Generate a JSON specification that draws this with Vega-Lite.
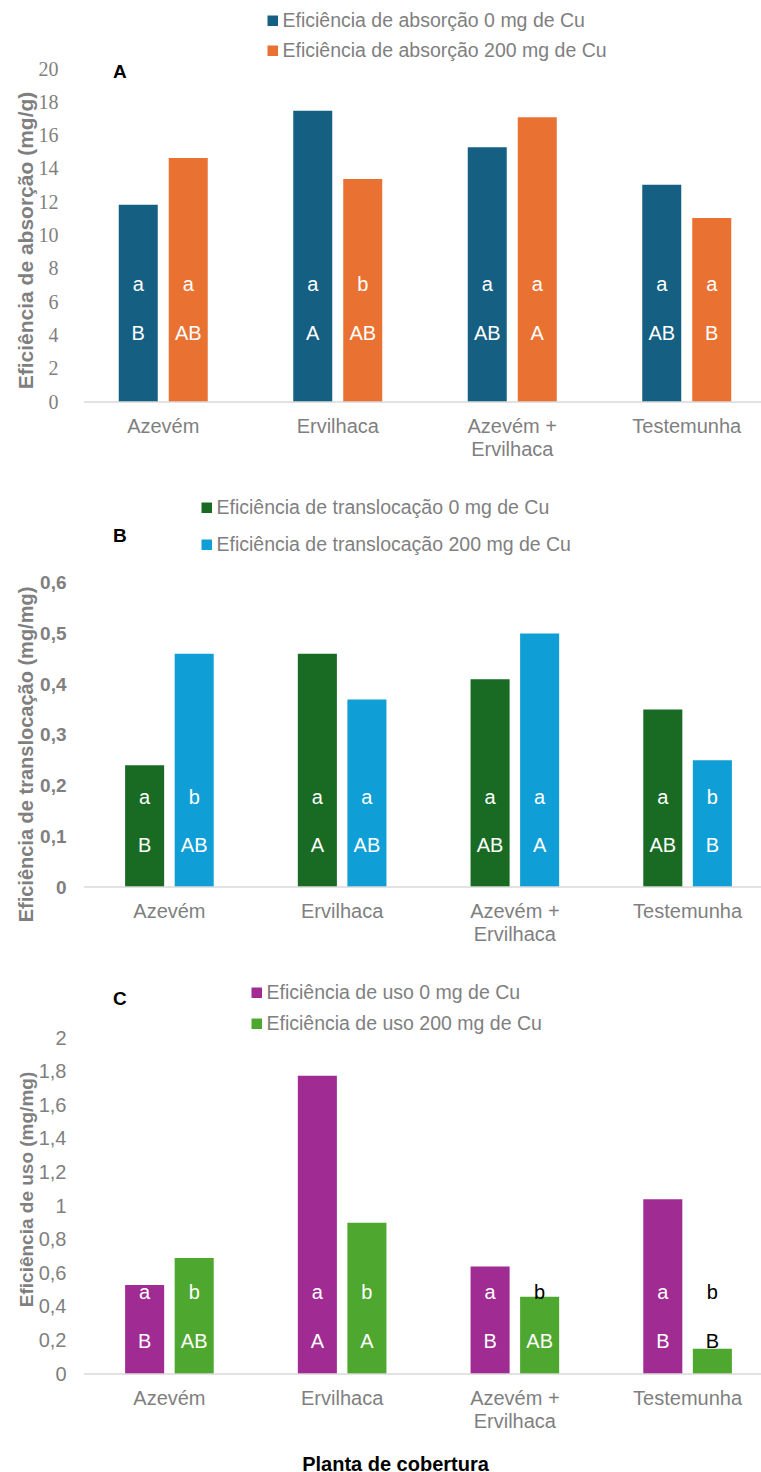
{
  "$schema": "https://vega.github.io/schema/vega-lite/v6.json",
  "background": "white",
  "padding": {"left": 15, "top": 11, "right": 0, "bottom": 0},
  "bounds": "flush",
  "spacing": 151,
  "resolve": {
    "scale": {"x": "independent", "y": "independent", "xOffset": "independent", "color": "independent"},
    "legend": {"color": "independent"},
    "axis": {"x": "independent", "y": "independent"}
  },
  "config": {
    "view": {"stroke": null},
    "font": "Liberation Sans",
    "axis": {"grid": false, "ticks": false, "domain": false, "labelOverlap": false, "labelColor": "#7f7f7f", "titleColor": "#7f7f7f", "labelFont": "Liberation Sans", "titleFont": "Liberation Sans"},
    "legend": {"labelFontSize": 19.5, "labelColor": "#7f7f7f", "labelFont": "Liberation Sans", "symbolType": "square", "symbolSize": 110, "symbolStrokeWidth": 0, "labelOffset": 0, "padding": 0, "labelLimit": 500},
    "text": {"font": "Liberation Sans", "fontSize": 20, "align": "center", "baseline": "middle"}
  },
  "vconcat": [
    {
      "width": 677,
      "height": 333,
      "title": {"text": "A", "anchor": "start", "frame": "group", "offset": 0, "dx": 29, "dy": 86, "baseline": "alphabetic", "fontSize": 19, "fontWeight": "bold", "color": "black", "font": "Liberation Sans"},
      "data": {"values": [
        {"planta": "Azevém", "serie": "Eficiência de absorção 0 mg de Cu", "value": 11.85, "low": "a", "up": "B"},
        {"planta": "Azevém", "serie": "Eficiência de absorção 200 mg de Cu", "value": 14.65, "low": "a", "up": "AB"},
        {"planta": "Ervilhaca", "serie": "Eficiência de absorção 0 mg de Cu", "value": 17.5, "low": "a", "up": "A"},
        {"planta": "Ervilhaca", "serie": "Eficiência de absorção 200 mg de Cu", "value": 13.4, "low": "b", "up": "AB"},
        {"planta": "Azevém + Ervilhaca", "serie": "Eficiência de absorção 0 mg de Cu", "value": 15.3, "low": "a", "up": "AB"},
        {"planta": "Azevém + Ervilhaca", "serie": "Eficiência de absorção 200 mg de Cu", "value": 17.1, "low": "a", "up": "A"},
        {"planta": "Testemunha", "serie": "Eficiência de absorção 0 mg de Cu", "value": 13.05, "low": "a", "up": "AB"},
        {"planta": "Testemunha", "serie": "Eficiência de absorção 200 mg de Cu", "value": 11.05, "low": "a", "up": "B"}
      ]},
      "layer": [
        {
          "mark": {"type": "bar"},
          "encoding": {
            "x": {"field": "planta", "type": "nominal", "sort": ["Azevém", "Ervilhaca", "Azevém + Ervilhaca", "Testemunha"], "scale": {"range": [-8, 690], "paddingInner": 0.49, "paddingOuter": 0.245}, "axis": {"title": null, "labelFontSize": 20, "labelPadding": 14, "labelAngle": 0, "labelLineHeight": 23, "labelOverlap": false, "labelExpr": "datum.value == 'Azevém + Ervilhaca' ? ['Azevém +', 'Ervilhaca'] : datum.value"}},
            "xOffset": {"field": "serie", "type": "nominal", "sort": ["Eficiência de absorção 0 mg de Cu", "Eficiência de absorção 200 mg de Cu"], "scale": {"paddingInner": 0.22, "paddingOuter": 0}},
            "y": {"field": "value", "type": "quantitative", "scale": {"domain": [0, 20], "nice": false}, "axis": {"title": "Eficiência de absorção (mg/g)", "values": [0, 2, 4, 6, 8, 10, 12, 14, 16, 18, 20], "tickCount": 11, "labelOverlap": false, "labelFont": "Liberation Serif", "labelFontSize": 20, "labelPadding": 26, "titleFontSize": 21, "titleFontWeight": "bold", "titleX": -52, "titleY": 171, "titleBaseline": "alphabetic"}},
            "color": {"field": "serie", "type": "nominal", "scale": {"domain": ["Eficiência de absorção 0 mg de Cu", "Eficiência de absorção 200 mg de Cu"], "range": ["#156082", "#E97132"]}, "legend": {"title": null, "orient": "none", "legendX": 179, "legendY": -58, "direction": "vertical", "rowPadding": 9}}
          }
        },
        {
          "mark": {"type": "text", "color": "white"},
          "encoding": {
            "x": {"field": "planta", "type": "nominal", "sort": ["Azevém", "Ervilhaca", "Azevém + Ervilhaca", "Testemunha"]},
            "xOffset": {"field": "serie", "type": "nominal", "sort": ["Eficiência de absorção 0 mg de Cu", "Eficiência de absorção 200 mg de Cu"]},
            "y": {"datum": 7, "type": "quantitative"},
            "text": {"field": "low"}
          }
        },
        {
          "mark": {"type": "text", "color": "white"},
          "encoding": {
            "x": {"field": "planta", "type": "nominal", "sort": ["Azevém", "Ervilhaca", "Azevém + Ervilhaca", "Testemunha"]},
            "xOffset": {"field": "serie", "type": "nominal", "sort": ["Eficiência de absorção 0 mg de Cu", "Eficiência de absorção 200 mg de Cu"]},
            "y": {"datum": 4.1, "type": "quantitative"},
            "text": {"field": "up"}
          }
        },
        {
          "data": {"values": [{"base": 0}]},
          "mark": {"type": "rule", "color": "#d9d9d9", "strokeWidth": 1.5},
          "encoding": {"y": {"field": "base", "type": "quantitative"}}
        }
      ]
    },
    {
      "width": 677,
      "height": 334,
      "title": {"text": "B", "anchor": "start", "frame": "group", "offset": 0, "dx": 29, "dy": 63, "baseline": "alphabetic", "fontSize": 19, "fontWeight": "bold", "color": "black", "font": "Liberation Sans"},
      "data": {"values": [
        {"planta": "Azevém", "serie": "Eficiência de translocação 0 mg de Cu", "value": 0.24, "low": "a", "up": "B"},
        {"planta": "Azevém", "serie": "Eficiência de translocação 200 mg de Cu", "value": 0.46, "low": "b", "up": "AB"},
        {"planta": "Ervilhaca", "serie": "Eficiência de translocação 0 mg de Cu", "value": 0.46, "low": "a", "up": "A"},
        {"planta": "Ervilhaca", "serie": "Eficiência de translocação 200 mg de Cu", "value": 0.37, "low": "a", "up": "AB"},
        {"planta": "Azevém + Ervilhaca", "serie": "Eficiência de translocação 0 mg de Cu", "value": 0.41, "low": "a", "up": "AB"},
        {"planta": "Azevém + Ervilhaca", "serie": "Eficiência de translocação 200 mg de Cu", "value": 0.5, "low": "a", "up": "A"},
        {"planta": "Testemunha", "serie": "Eficiência de translocação 0 mg de Cu", "value": 0.35, "low": "a", "up": "AB"},
        {"planta": "Testemunha", "serie": "Eficiência de translocação 200 mg de Cu", "value": 0.25, "low": "b", "up": "B"}
      ]},
      "layer": [
        {
          "mark": {"type": "bar"},
          "encoding": {
            "x": {"field": "planta", "type": "nominal", "sort": ["Azevém", "Ervilhaca", "Azevém + Ervilhaca", "Testemunha"], "scale": {"range": [0, 689], "paddingInner": 0.487, "paddingOuter": 0.238}, "axis": {"title": null, "labelFontSize": 20, "labelPadding": 14, "labelAngle": 0, "labelLineHeight": 23, "labelOverlap": false, "labelExpr": "datum.value == 'Azevém + Ervilhaca' ? ['Azevém +', 'Ervilhaca'] : datum.value"}},
            "xOffset": {"field": "serie", "type": "nominal", "sort": ["Eficiência de translocação 0 mg de Cu", "Eficiência de translocação 200 mg de Cu"], "scale": {"paddingInner": 0.212, "paddingOuter": 0}},
            "y": {"field": "value", "type": "quantitative", "scale": {"domain": [0, 0.659], "nice": false}, "axis": {"title": "Eficiência de translocação (mg/mg)", "values": [0, 0.1, 0.2, 0.3, 0.4, 0.5, 0.6], "tickCount": 7, "labelOverlap": false, "labelExpr": "replace(format(datum.value, '~g'), '.', ',')", "labelFontSize": 19, "labelFontWeight": "bold", "labelPadding": 18, "titleFontSize": 20, "titleFontWeight": "bold", "titleX": -52, "titleY": 201, "titleBaseline": "alphabetic"}},
            "color": {"field": "serie", "type": "nominal", "scale": {"domain": ["Eficiência de translocação 0 mg de Cu", "Eficiência de translocação 200 mg de Cu"], "range": ["#196B24", "#0F9ED5"]}, "legend": {"title": null, "orient": "none", "legendX": 113, "legendY": -55, "direction": "vertical", "rowPadding": 16}}
          }
        },
        {
          "mark": {"type": "text", "color": "white"},
          "encoding": {
            "x": {"field": "planta", "type": "nominal", "sort": ["Azevém", "Ervilhaca", "Azevém + Ervilhaca", "Testemunha"]},
            "xOffset": {"field": "serie", "type": "nominal", "sort": ["Eficiência de translocação 0 mg de Cu", "Eficiência de translocação 200 mg de Cu"]},
            "y": {"datum": 0.175, "type": "quantitative"},
            "text": {"field": "low"}
          }
        },
        {
          "mark": {"type": "text", "color": "white"},
          "encoding": {
            "x": {"field": "planta", "type": "nominal", "sort": ["Azevém", "Ervilhaca", "Azevém + Ervilhaca", "Testemunha"]},
            "xOffset": {"field": "serie", "type": "nominal", "sort": ["Eficiência de translocação 0 mg de Cu", "Eficiência de translocação 200 mg de Cu"]},
            "y": {"datum": 0.08, "type": "quantitative"},
            "text": {"field": "up"}
          }
        },
        {
          "data": {"values": [{"base": 0}]},
          "mark": {"type": "rule", "color": "#d9d9d9", "strokeWidth": 1.5},
          "encoding": {"y": {"field": "base", "type": "quantitative"}}
        }
      ]
    },
    {
      "width": 677,
      "height": 336,
      "title": {"text": "C", "anchor": "start", "frame": "group", "offset": 0, "dx": 29, "dy": 41, "baseline": "alphabetic", "fontSize": 19, "fontWeight": "bold", "color": "black", "font": "Liberation Sans"},
      "data": {"values": [
        {"planta": "Azevém", "serie": "Eficiência de uso 0 mg de Cu", "value": 0.53, "low": "a", "up": "B"},
        {"planta": "Azevém", "serie": "Eficiência de uso 200 mg de Cu", "value": 0.69, "low": "b", "up": "AB"},
        {"planta": "Ervilhaca", "serie": "Eficiência de uso 0 mg de Cu", "value": 1.775, "low": "a", "up": "A"},
        {"planta": "Ervilhaca", "serie": "Eficiência de uso 200 mg de Cu", "value": 0.9, "low": "b", "up": "A"},
        {"planta": "Azevém + Ervilhaca", "serie": "Eficiência de uso 0 mg de Cu", "value": 0.64, "low": "a", "up": "B"},
        {"planta": "Azevém + Ervilhaca", "serie": "Eficiência de uso 200 mg de Cu", "value": 0.46, "low": "b", "up": "AB"},
        {"planta": "Testemunha", "serie": "Eficiência de uso 0 mg de Cu", "value": 1.04, "low": "a", "up": "B"},
        {"planta": "Testemunha", "serie": "Eficiência de uso 200 mg de Cu", "value": 0.15, "low": "b", "up": "B"}
      ]},
      "layer": [
        {
          "mark": {"type": "bar"},
          "encoding": {
            "x": {"field": "planta", "type": "nominal", "sort": ["Azevém", "Ervilhaca", "Azevém + Ervilhaca", "Testemunha"], "scale": {"range": [0, 689], "paddingInner": 0.487, "paddingOuter": 0.238}, "axis": {"title": "Planta de cobertura", "titleColor": "black", "titleFontSize": 20, "titleFontWeight": "bold", "titleX": 311, "titleY": 96, "titleBaseline": "alphabetic", "labelFontSize": 20, "labelPadding": 14, "labelAngle": 0, "labelLineHeight": 23, "labelOverlap": false, "labelExpr": "datum.value == 'Azevém + Ervilhaca' ? ['Azevém +', 'Ervilhaca'] : datum.value"}},
            "xOffset": {"field": "serie", "type": "nominal", "sort": ["Eficiência de uso 0 mg de Cu", "Eficiência de uso 200 mg de Cu"], "scale": {"paddingInner": 0.212, "paddingOuter": 0}},
            "y": {"field": "value", "type": "quantitative", "scale": {"domain": [0, 2], "nice": false}, "axis": {"title": "Eficiência de uso (mg/mg)", "values": [0, 0.2, 0.4, 0.6, 0.8, 1, 1.2, 1.4, 1.6, 1.8, 2], "tickCount": 11, "labelOverlap": false, "labelExpr": "replace(format(datum.value, '~g'), '.', ',')", "labelFontSize": 20, "labelPadding": 18, "titleFontSize": 19, "titleFontWeight": "bold", "titleX": -52, "titleY": 151, "titleBaseline": "alphabetic"}},
            "color": {"field": "serie", "type": "nominal", "scale": {"domain": ["Eficiência de uso 0 mg de Cu", "Eficiência de uso 200 mg de Cu"], "range": ["#A02B93", "#4EA72E"]}, "legend": {"title": null, "orient": "none", "legendX": 163, "legendY": -55, "direction": "vertical", "rowPadding": 10}}
          }
        },
        {
          "mark": {"type": "text"},
          "encoding": {
            "x": {"field": "planta", "type": "nominal", "sort": ["Azevém", "Ervilhaca", "Azevém + Ervilhaca", "Testemunha"]},
            "xOffset": {"field": "serie", "type": "nominal", "sort": ["Eficiência de uso 0 mg de Cu", "Eficiência de uso 200 mg de Cu"]},
            "y": {"datum": 0.48, "type": "quantitative"},
            "text": {"field": "low"},
            "color": {"condition": {"test": "datum.value > 0.5", "value": "white"}, "value": "black"}
          }
        },
        {
          "mark": {"type": "text"},
          "encoding": {
            "x": {"field": "planta", "type": "nominal", "sort": ["Azevém", "Ervilhaca", "Azevém + Ervilhaca", "Testemunha"]},
            "xOffset": {"field": "serie", "type": "nominal", "sort": ["Eficiência de uso 0 mg de Cu", "Eficiência de uso 200 mg de Cu"]},
            "y": {"datum": 0.19, "type": "quantitative"},
            "text": {"field": "up"},
            "color": {"condition": {"test": "datum.value > 0.25", "value": "white"}, "value": "black"}
          }
        },
        {
          "data": {"values": [{"base": 0}]},
          "mark": {"type": "rule", "color": "#d9d9d9", "strokeWidth": 1.5},
          "encoding": {"y": {"field": "base", "type": "quantitative"}}
        }
      ]
    }
  ]
}
